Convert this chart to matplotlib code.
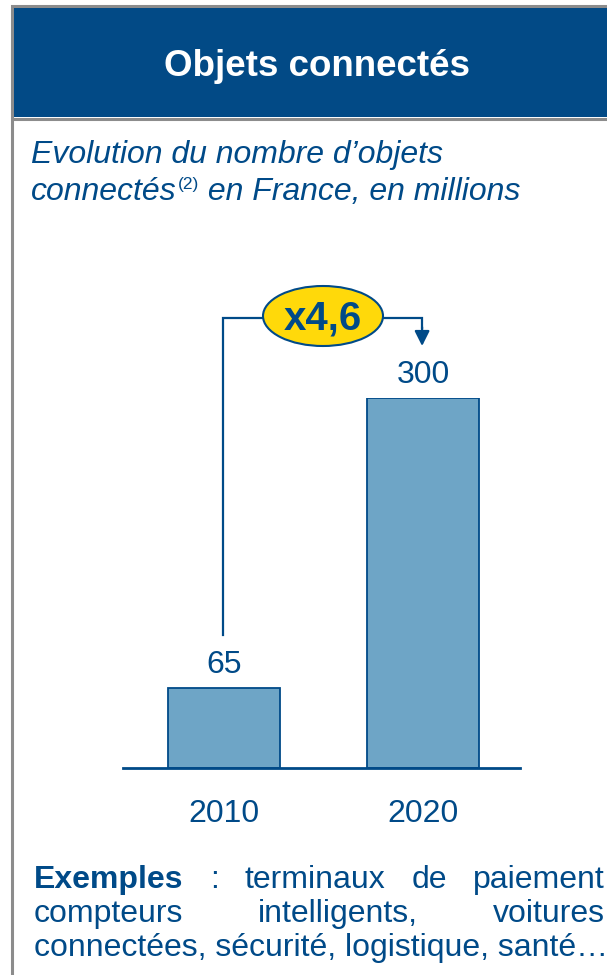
import matplotlib
matplotlib.use('Agg')
import matplotlib.pyplot as plt
from matplotlib.patches import Rectangle, Ellipse

plt.rcParams['font.family'] = ['Liberation Sans', 'DejaVu Sans']

# data
years = ['2010', '2020']
values = [65, 300]
growth_label = 'x4,6'

title = 'Objets connectés'
subtitle_1 = 'Evolution du nombre d\u2019objets'
subtitle_2a = 'connectés'
subtitle_sup = '(2)'
subtitle_2b = ' en France, en millions'
examples_head = 'Exemples'
examples_lines = [
    [':', 'terminaux', 'de', 'paiement'],
    ['compteurs', 'intelligents,', 'voitures'],
    ['connectées, sécurité, logistique, santé\u2026'],
]

blue = '#004A88'
header_blue = '#024A86'
bar_fill = '#6EA5C6'
yellow = '#FFD90A'
gray = '#8C8C8C'
fs = 23

W, H = 607, 975
fig = plt.figure(figsize=(W / 100, H / 100), dpi=100)

# overlay in pixel coords (y down)
ov = fig.add_axes([0, 0, 1, 1])
ov.set_xlim(0, W)
ov.set_ylim(H, 0)
ov.axis('off')

# frame + header
ov.add_patch(Rectangle((12, 6), W + 20, H + 20, facecolor='white', edgecolor=gray, lw=2.2))
ov.add_patch(Rectangle((14, 8), W, 109, facecolor=header_blue, edgecolor='none'))
ov.plot([14, W], [118.5, 118.5], color=gray, lw=2.2)
ov.text(317, 76, title, color='white', fontsize=26.5, fontweight='bold',
        ha='center', va='baseline')

# subtitle
ov.text(31, 163, subtitle_1, color=blue, fontsize=fs, style='italic', va='baseline')
ov.text(31, 200, subtitle_2a, color=blue, fontsize=fs, style='italic', va='baseline')

# bar chart
base_px, top_px = 768, 398
left_px, right_px = 123, 520
ax = fig.add_axes([left_px / W, (H - base_px) / H, (right_px - left_px) / W,
                   (base_px - top_px) / H])
x = list(range(len(years)))
ax.bar(x, values, width=0.563, color=bar_fill, edgecolor=blue, linewidth=1.3)
ax.set_xlim(-0.508, 1.487)
ax.set_ylim(0, 300)
for s in ['top', 'right', 'left']:
    ax.spines[s].set_visible(False)
ax.spines['bottom'].set_color(blue)
ax.spines['bottom'].set_linewidth(2)
ax.set_yticks([])
ax.set_xticks(x, labels=years)
ax.tick_params(axis='x', length=0, pad=22, labelsize=fs, labelcolor=blue)
for xi, v in zip(x, values):
    ax.annotate(str(v), (xi, v), xytext=(0, 11), textcoords='offset points',
                ha='center', va='baseline', fontsize=fs, color=blue)

# growth connector (data units: 1 unit = 370/300 px)
upp = 300 / (base_px - top_px)
y_top = (base_px - 318) * upp
y_low = (base_px - 635) * upp
ax.plot([x[0] - 0.005, x[0] - 0.005, x[1] - 0.005, x[1] - 0.005],
        [y_low, y_top, y_top, y_top - 10 * upp], color=blue, lw=1.6,
        clip_on=False, solid_joinstyle='miter')
ax.annotate('', xy=(x[1] - 0.005, (base_px - 346) * upp),
            xytext=(x[1] - 0.005, y_top - 9 * upp),
            arrowprops=dict(arrowstyle='-|>,head_length=0.9,head_width=0.45',
                            color=blue, lw=1.6, shrinkA=0, shrinkB=0),
            annotation_clip=False)

ax.add_patch(Ellipse((323, 316), 120, 60, facecolor=yellow, edgecolor=blue, lw=1.5,
                     transform=ov.transData, clip_on=False, zorder=5))
ax.text(323, 318, growth_label, color=blue, fontsize=29, fontweight='bold',
        ha='center', va='center', transform=ov.transData, zorder=6)

fig.canvas.draw()
r = fig.canvas.get_renderer()


def word_width(s, bold=False, size=fs, italic=False):
    t = ov.text(0, 0, s, fontsize=size, fontweight='bold' if bold else 'normal',
                style='italic' if italic else 'normal')
    w = t.get_window_extent(r).width
    t.remove()
    return w


# superscript and rest of subtitle line 2
x_sup = 31 + word_width(subtitle_2a, italic=True) + 1
ov.text(x_sup, 189, subtitle_sup, color=blue, fontsize=12.5, va='baseline')
x_rest = x_sup + word_width(subtitle_sup, size=12.5)
ov.text(x_rest, 200, subtitle_2b, color=blue, fontsize=fs, style='italic', va='baseline')

# justified examples text
left_x, right_x = 34, 605
baselines = [888, 922, 956]
for li, (words, yb) in enumerate(zip(examples_lines, baselines)):
    if li == len(examples_lines) - 1:
        ov.text(left_x, yb, words[0], fontsize=fs, color=blue, va='baseline')
        continue
    items = [(w, False) for w in words]
    if li == 0:
        items = [(examples_head, True)] + items
    widths = [word_width(s, b) for s, b in items]
    gap = (right_x - left_x - sum(widths)) / (len(items) - 1)
    xpos = left_x
    for (s, b), w in zip(items, widths):
        ov.text(xpos, yb, s, fontsize=fs, color=blue, va='baseline',
                fontweight='bold' if b else 'normal')
        xpos += w + gap

fig.savefig('out.png', dpi=100)
